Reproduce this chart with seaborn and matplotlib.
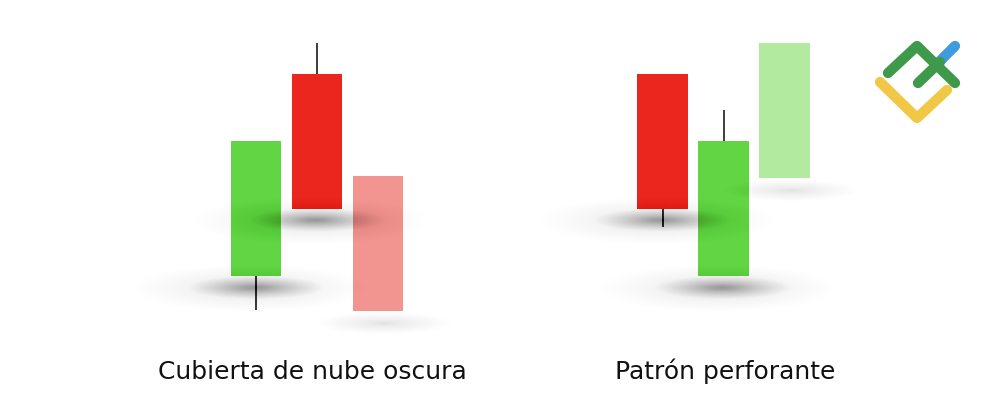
import numpy as np
import pandas as pd
import seaborn as sns
import matplotlib.pyplot as plt
from matplotlib.patches import Ellipse

sns.set_theme(style="white")
plt.rcParams['font.family'] = ['DejaVu Sans']

# candle values (price units), pattern 1: dark cloud cover
cloud_open = [8.0, 38.0, 22.8]
cloud_close = [28.0, 18.0, 2.8]
cloud_low = [3.0, 18.0, 2.8]
cloud_high = [28.0, 42.6, 22.8]
cloud_colors = ['#62D544', '#EB261F', '#F29490']

# pattern 2: piercing line
pierce_open = [38.0, 8.0, 22.5]
pierce_close = [18.0, 28.0, 42.5]
pierce_low = [15.2, 8.0, 22.5]
pierce_high = [38.0, 32.6, 42.5]
pierce_colors = ['#EB261F', '#62D544', '#B2EAA0']

titles = ['Cubierta de nube oscura', 'Patrón perforante']
faded = [False, False, True]


def shadow(ax, x, y, w, h, strength, n=30):
    # stacked soft ellipses, darker towards the middle
    for i in range(n):
        s = (1 - i / n) ** 1.4
        ax.add_patch(Ellipse((x, y), w * s, h * s, color='black', lw=0,
                             alpha=strength / n, zorder=3, clip_on=False))


def draw_candles(ax, opens, closes, lows, highs, colors):
    df = pd.DataFrame({'pos': [0, 1, 2], 'open': opens, 'close': closes,
                       'low': lows, 'high': highs})
    df['bottom'] = df[['open', 'close']].min(axis=1)
    df['body'] = (df['close'] - df['open']).abs()
    sns.barplot(data=df, x='pos', y='body', bottom=df['bottom'].values,
                width=0.82, errorbar=None, linewidth=0, color='#888888', ax=ax)
    for patch, c in zip(ax.patches, colors):
        patch.set_facecolor(c)
        patch.set_zorder(1)
    ax.vlines(df['pos'], df['low'], df['high'], color='#1c1c1c', lw=1.2, zorder=0.5)
    for p, b, fade in zip(df['pos'], df['bottom'], faded):
        if fade:
            shadow(ax, p + 0.7, b - 1.4, 3.6, 6.0, 0.05)
            shadow(ax, p + 0.1, b - 1.8, 2.2, 3.2, 0.17)
        else:
            shadow(ax, p - 0.1, b - 1.8, 3.8, 7.0, 0.06)
            shadow(ax, p, b - 1.7, 2.2, 3.4, 0.30)
    ax.set_xlim(-1.5, 3.5)
    ax.set_ylim(-12.0, 48.9)
    ax.axis('off')


fig = plt.figure(figsize=(10, 4.11), dpi=100)
ax1 = fig.add_axes([0.1645, 0, 0.305, 1])
ax2 = fig.add_axes([0.571, 0, 0.305, 1])
draw_candles(ax1, cloud_open, cloud_close, cloud_low, cloud_high, cloud_colors)
draw_candles(ax2, pierce_open, pierce_close, pierce_low, pierce_high, pierce_colors)

fig.text(0.3125, 1 - 379 / 411, titles[0], ha='center', va='baseline',
         fontsize=18, color='#111111')
fig.text(0.725, 1 - 379 / 411, titles[1], ha='center', va='baseline',
         fontsize=18, color='#111111')

# logo
lg = fig.add_axes([0, 0, 1, 1], zorder=5)
lg.set_xlim(0, 1000)
lg.set_ylim(411, 0)
lg.axis('off')
kw = dict(lw=7.4, solid_capstyle='round', solid_joinstyle='round')
lg.plot([880, 917, 947], [82, 118, 90], color='#F0C846', **kw)
lg.plot([938, 955], [63, 46], color='#3D9BE0', **kw)
lg.plot([888, 917, 955], [73, 46, 83], color='#3E9A4A', **kw)
lg.plot([918, 940], [83, 62], color='#3E9A4A', **kw)

fig.savefig('out.png', dpi=100, facecolor='white')
